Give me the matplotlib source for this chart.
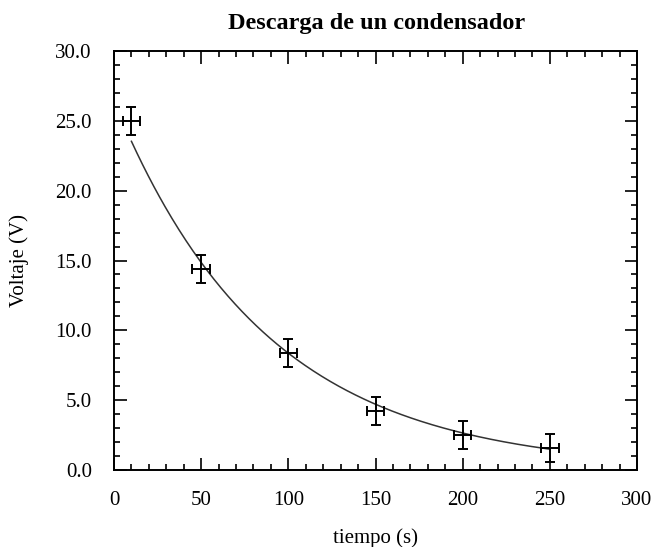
import numpy as np
import matplotlib
matplotlib.use("Agg")
import matplotlib.pyplot as plt
from matplotlib.ticker import MultipleLocator, FormatStrFormatter

# Data
tiempo = [10, 50, 100, 150, 200, 250]
voltaje = [25.0, 14.4, 8.4, 4.2, 2.5, 1.6]
err_t = [5, 5, 5, 5, 5, 5]
err_v = [1.0, 1.0, 1.0, 1.0, 1.0, 1.0]

# Fitted model parameters (V = V0 * exp(-t / tau))
V0 = 26.4
tau = 87.0

plt.rcParams['font.family'] = ['Liberation Serif', 'DejaVu Serif']

fig = plt.figure(figsize=(6.54, 5.47), dpi=100)
ax = fig.add_axes([114/654, 1 - 470/547, (637-114)/654, (470-51)/547])

t_fit = np.linspace(tiempo[0], tiempo[-1], 300)
ax.plot(t_fit, V0 * np.exp(-t_fit / tau), color='#333333', lw=1.1)
ax.errorbar(tiempo, voltaje, xerr=err_t, yerr=err_v, fmt='none',
            ecolor='black', elinewidth=1.4, capsize=3.5, capthick=1.4)

ax.set_xlim(0, 300)
ax.set_ylim(0, 30)
ax.xaxis.set_major_locator(MultipleLocator(50))
ax.xaxis.set_minor_locator(MultipleLocator(10))
ax.yaxis.set_major_locator(MultipleLocator(5))
ax.yaxis.set_minor_locator(MultipleLocator(1))
ax.yaxis.set_major_formatter(FormatStrFormatter('%.1f'))

ax.tick_params(which='both', direction='in', top=True, right=True, width=1.2)
ax.tick_params(which='major', length=9, labelsize=15)
ax.tick_params(axis='x', which='major', pad=15)
ax.tick_params(axis='y', which='major', pad=16)
ax.tick_params(which='minor', length=4.5)
for s in ax.spines.values():
    s.set_linewidth(1.4)

ax.set_xlabel('tiempo (s)', fontsize=15)
ax.set_ylabel('Voltaje (V)', fontsize=15)
ax.xaxis.set_label_coords(0.5, -(538 - 470) / 419, transform=ax.transAxes)
ax.yaxis.set_label_coords(-(114 - 19) / 523, 0.5, transform=ax.transAxes)
ax.xaxis.label.set_va('center')
ax.yaxis.label.set_va('center')
fig.text(0.5 * (114 + 637) / 654 + 0.002, 1 - 23 / 547, 'Descarga de un condensador',
         fontsize=17.5, fontweight='bold',
         ha='center', va='center')

fig.savefig('out.png', dpi=100)
